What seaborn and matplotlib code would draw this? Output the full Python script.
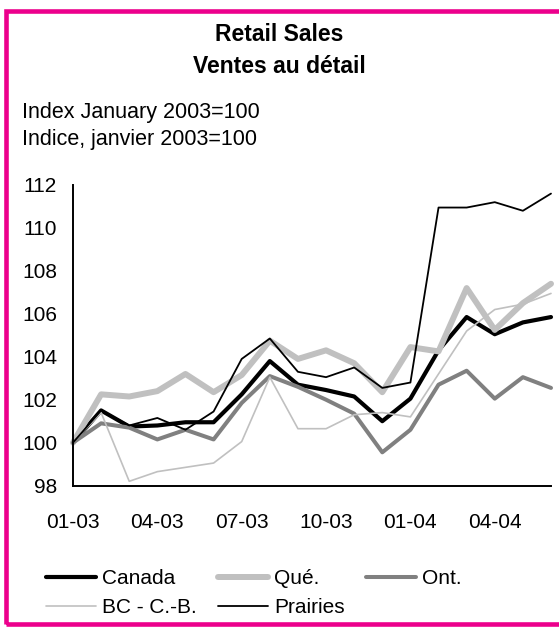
import matplotlib
matplotlib.use("Agg")
import matplotlib.pyplot as plt
import pandas as pd
import seaborn as sb
from matplotlib.patches import Rectangle

# monthly index, Jan 2003 = 100
months = ["01-03", "02-03", "03-03", "04-03", "05-03", "06-03", "07-03", "08-03", "09-03",
          "10-03", "11-03", "12-03", "01-04", "02-04", "03-04", "04-04", "05-04", "06-04"]
canada = [100.0, 101.5, 100.75, 100.8, 100.95, 100.95, 102.25, 103.8, 102.7,
          102.45, 102.15, 101.0, 102.05, 104.3, 105.85, 105.05, 105.6, 105.85]
que = [100.0, 102.25, 102.15, 102.4, 103.2, 102.35, 103.15, 104.75, 103.9,
       104.3, 103.7, 102.35, 104.45, 104.25, 107.2, 105.25, 106.5, 107.4]
ont = [100.0, 100.9, 100.7, 100.15, 100.6, 100.15, 101.85, 103.1, 102.6,
       102.0, 101.35, 99.55, 100.6, 102.7, 103.35, 102.05, 103.05, 102.55]
bc = [100.0, 101.4, 98.2, 98.65, 98.85, 99.05, 100.05, 103.05, 100.65,
      100.65, 101.3, 101.4, 101.2, 103.2, 105.2, 106.2, 106.45, 106.95]
prairies = [100.0, 101.5, 100.8, 101.15, 100.6, 101.45, 103.9, 104.85, 103.3,
            103.05, 103.5, 102.55, 102.8, 110.95, 110.95, 111.2, 110.8, 111.6]

names = ["Canada", "Qué.", "Ont.", "BC - C.-B.", "Prairies"]
colors = ["black", "#c0c0c0", "#808080", "#c0c0c0", "black"]
widths = [3.0, 4.3, 2.9, 1.2, 1.3]

sb.set_style("white")
plt.rcParams["font.family"] = ["Liberation Sans", "DejaVu Sans"]
plt.rcParams["text.color"] = "black"
plt.rcParams["xtick.color"] = "black"
plt.rcParams["ytick.color"] = "black"

a = pd.DataFrame({"month": range(len(months)), "Canada": canada, "Qué.": que,
                  "Ont.": ont, "BC - C.-B.": bc, "Prairies": prairies})

fig = plt.figure(figsize=(5.59, 6.27), dpi=100)
ax = fig.add_axes([73 / 559, 1 - 485.6 / 627, (551 - 73) / 559, (485.6 - 185) / 627])

for name, c, w in zip(names, colors, widths):
    sb.lineplot(data=a, x="month", y=name, color=c, linewidth=w, ax=ax,
                solid_capstyle="round", solid_joinstyle="round", clip_on=False)

ax.set_xlabel("")
ax.set_ylabel("")
ax.set_xlim(0, 17)
ax.set_ylim(98, 112)
ax.set_yticks(range(98, 113, 2))
ax.set_xticks(range(len(months)))
ax.set_xticklabels([m if i % 3 == 0 else "" for i, m in enumerate(months)])
ax.tick_params(direction="in", length=5.5, width=1.3, labelsize=15,
               colors="black", labelcolor="black")
ax.tick_params(axis="x", pad=20)
ax.tick_params(axis="y", pad=11.5)
for s in ["top", "right"]:
    ax.spines[s].set_visible(False)
for s in ["left", "bottom"]:
    ax.spines[s].set_color("black")
    ax.spines[s].set_linewidth(1.4)

fig.text(0.5, 1 - 40.7 / 627, "Retail Sales", ha="center", va="baseline",
         fontsize=16.5, fontweight="bold", color="black")
fig.text(0.5, 1 - 72.7 / 627, "Ventes au détail", ha="center", va="baseline",
         fontsize=16.5, fontweight="bold", color="black")
fig.text(22 / 559, 1 - 117.7 / 627, "Index January 2003=100", va="baseline",
         fontsize=15.5, color="black")
fig.text(22 / 559, 1 - 144.5 / 627, "Indice, janvier 2003=100", va="baseline",
         fontsize=15.5, color="black")

# legend rows: Canada / Qué. / Ont.  then  BC / Prairies
lines = ax.get_lines()
order = [0, 3, 1, 4, 2]
fig.legend([lines[i] for i in order], [names[i] for i in order],
           loc="upper left", bbox_to_anchor=(46 / 559, 1 - 569 / 627), ncol=3,
           frameon=False, fontsize=15, handlelength=2.4, handletextpad=0.3,
           columnspacing=1.0, labelspacing=0.5, borderpad=0, borderaxespad=0,
           labelcolor="black")

fig.patches.append(Rectangle((6.2 / 559, 1 - 624 / 627), 1.1, (624 - 10.5) / 627,
                             transform=fig.transFigure, fill=False,
                             edgecolor="#ec008c", linewidth=3.3))

fig.savefig("out.png", dpi=100)
